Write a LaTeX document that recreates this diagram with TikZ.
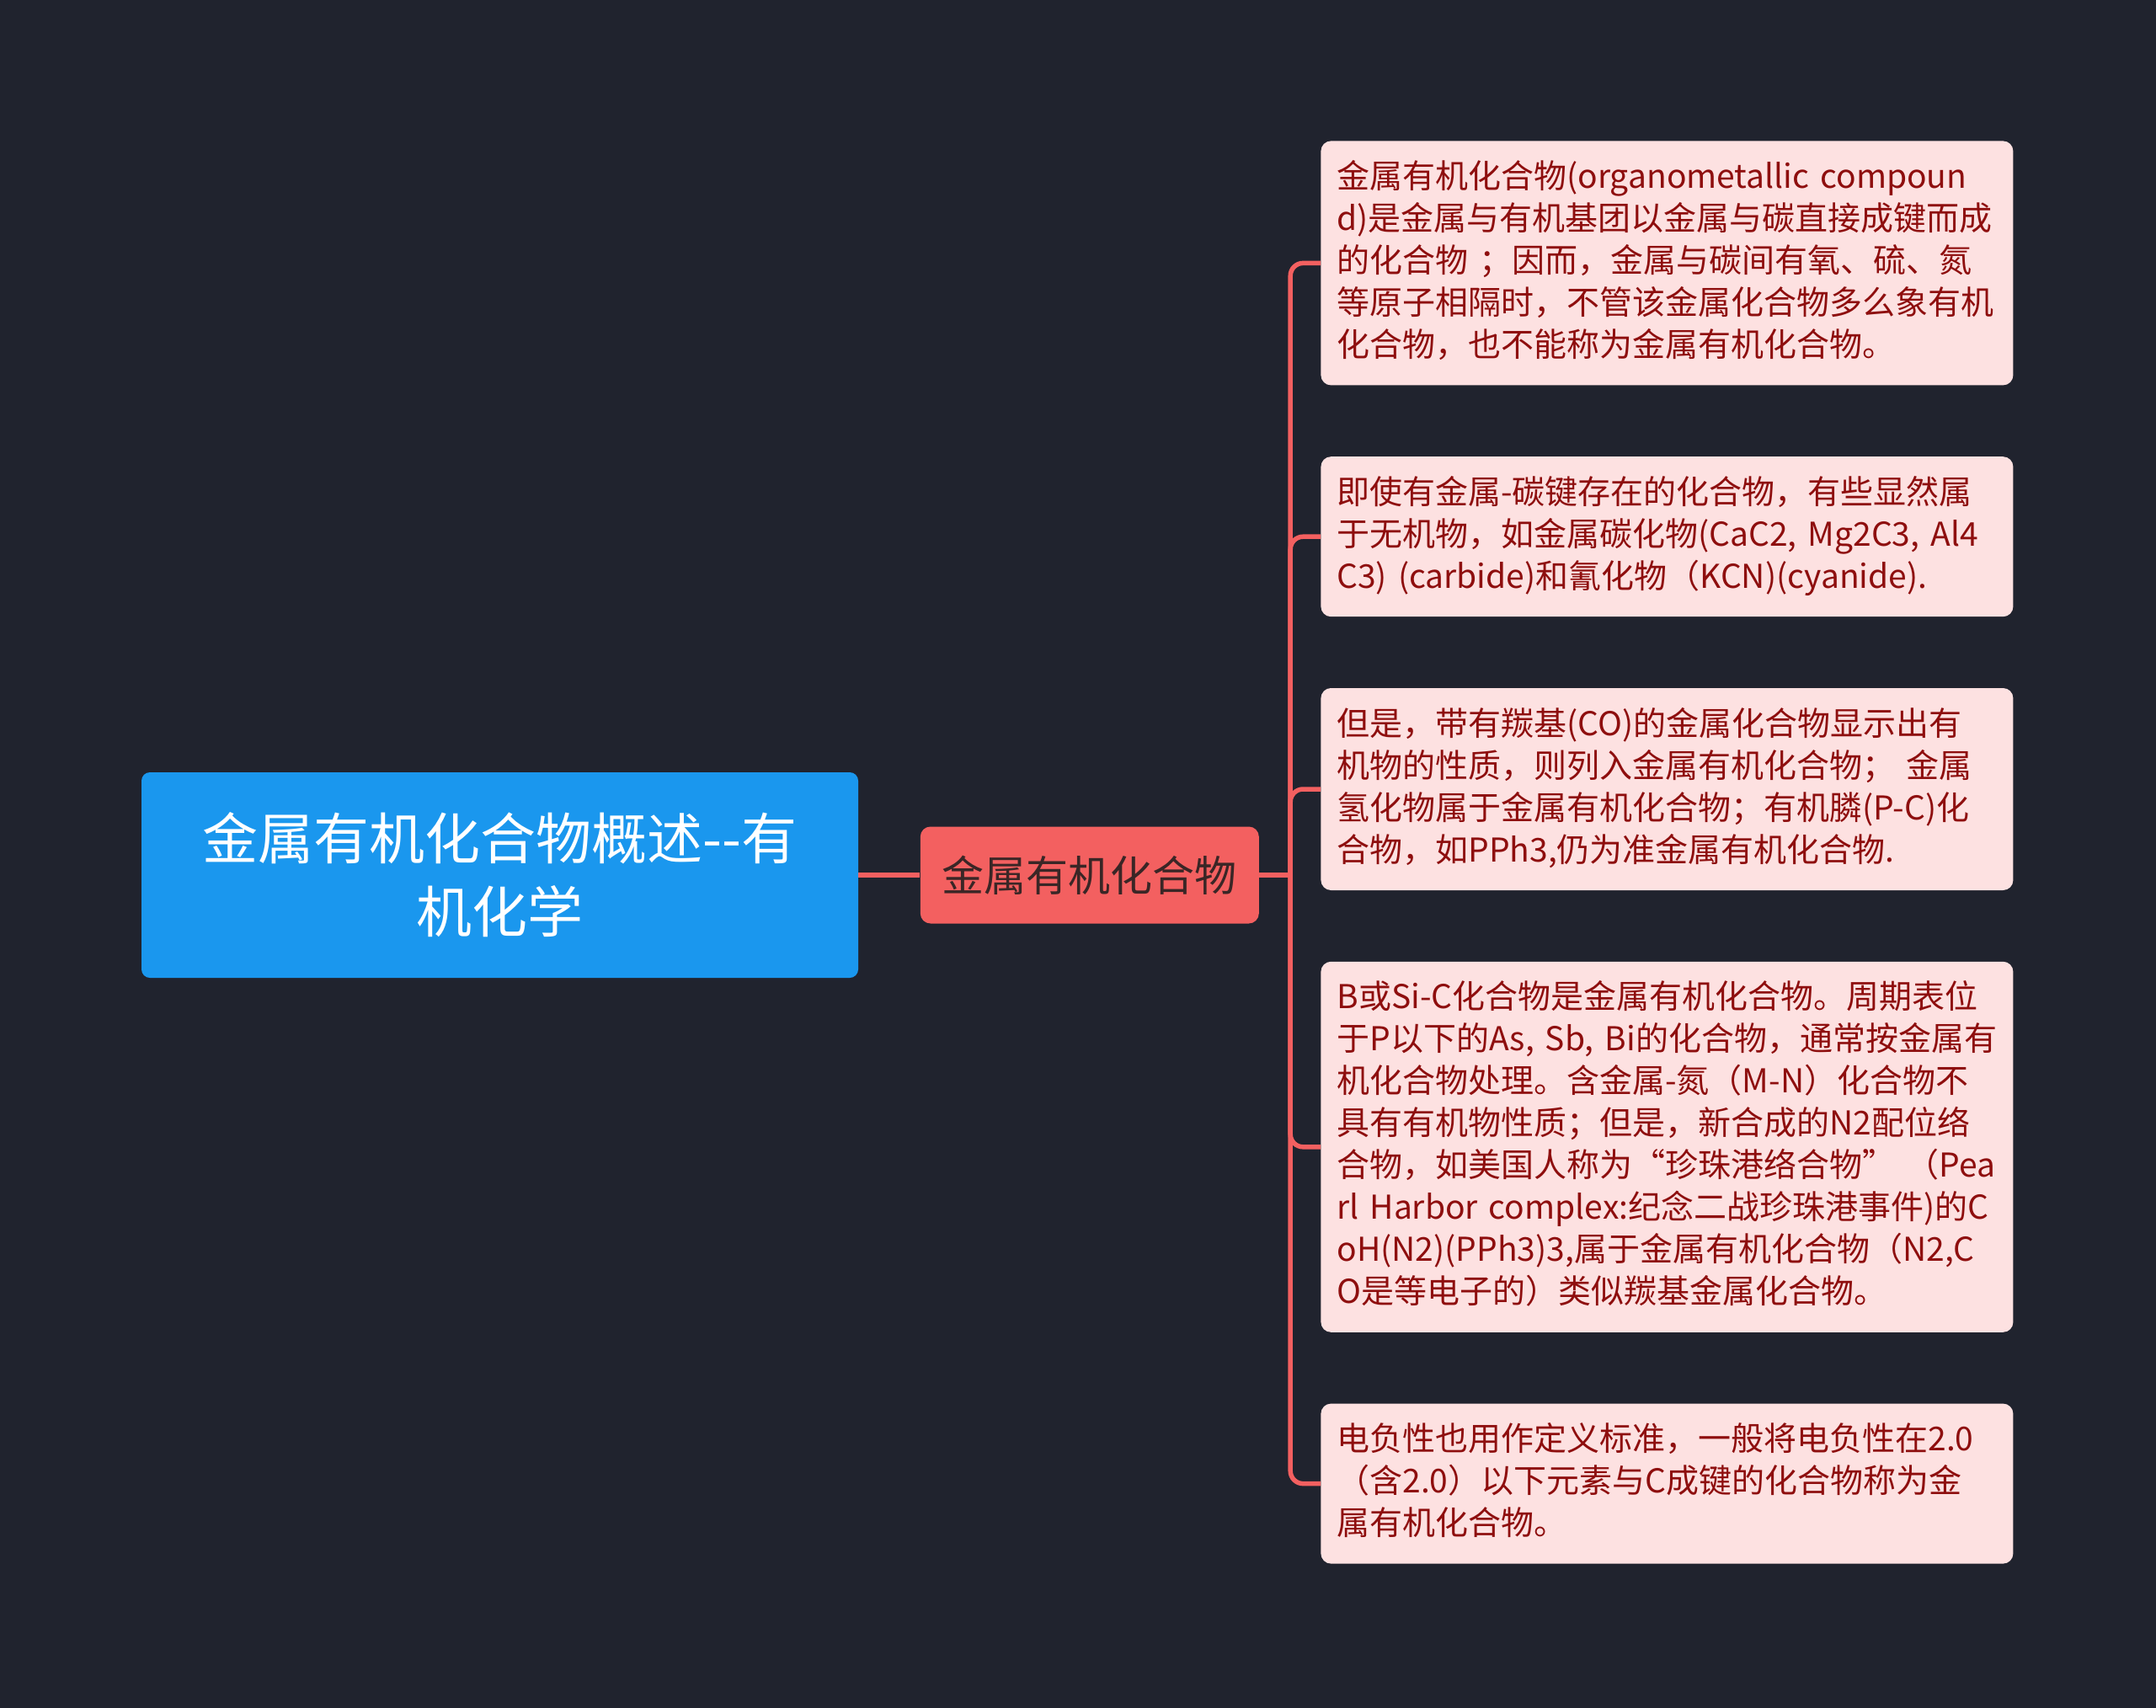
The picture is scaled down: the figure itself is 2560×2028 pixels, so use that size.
\documentclass[tikz,border=0pt]{standalone}
\usepackage{fontspec}
\setmainfont{Noto Sans CJK SC}
\usepackage{xcolor}
\usetikzlibrary{positioning}
\definecolor{bgdark}{HTML}{20232E}
\definecolor{rootblue}{HTML}{1A97EE}
\definecolor{coral}{HTML}{F36060}
\definecolor{leafpink}{HTML}{FDE1E1}
\definecolor{leaftext}{HTML}{8E0E0E}
\definecolor{midtext}{HTML}{3A2626}
\newcommand{\leafstrut}{\rule[-7pt]{0pt}{25pt}}

\begin{document}
\begin{tikzpicture}[x = 0.5pt, y = -0.5pt,
		root/.style = { fill = rootblue, text = white, rounded corners = 5pt, minimum width = 425.5pt, minimum height = 122pt, align = center, font = \fontsize{33}{43.5}\selectfont },
		topic/.style = { fill = coral, text = midtext, rounded corners = 6pt, minimum width = 201pt, minimum height = 57.5pt, font = \fontsize{25}{30}\selectfont },
		leaf/.style = { fill = leafpink, text = leaftext, rounded corners = 6pt, text width = 392pt, inner xsep = 9.5pt, inner ysep = 10pt, align = left, font = \fontsize{19.5}{25}\selectfont, execute at begin node = \leafstrut, execute at end node = \leafstrut },
		link/.style = { draw = coral, line width = 2.75pt, rounded corners = 7.5pt }]
		\fill[bgdark] (0,0) rectangle (2560,2028);
		\useasboundingbox (0,0) rectangle (2560,2028);

		\node [root]                      (root)  at (593.5,1039) {金属有机化合物概述-{}-有\\机化学};
		\node [topic, right = 36.5pt of root] (topic) {金属有机化合物};
		\coordinate [right = 18.5pt of topic] (hub);

		\node [leaf, anchor = north west] (l1) at (1568,167) {金属有机化合物(organometallic compoun\\d)是金属与有机基团以金属与碳直接成键而成\\的化合物 ；因而，金属与碳间有氧、硫、氮\\等原子相隔时，不管该金属化合物多么象有机\\化合物，也不能称为金属有机化合物。};
		\node [leaf, below = 42pt of l1] (l2) {即使有金属-碳键存在的化合物，有些显然属\\于无机物，如金属碳化物(CaC2, Mg2C3, Al4\\C3) (carbide)和氰化物（KCN)(cyanide).};
		\node [leaf, below = 42pt of l2] (l3) {但是，带有羰基(CO)的金属化合物显示出有\\机物的性质，则列入金属有机化合物； 金属\\氢化物属于金属有机化合物；有机膦(P-C)化\\合物，如PPh3,仍为准金属有机化合物.};
		\node [leaf, below = 42pt of l3] (l4) {B或Si-C化合物是金属有机化合物。周期表位\\于P以下的As, Sb, Bi的化合物，通常按金属有\\机化合物处理。含金属-氮（M-N）化合物不\\具有有机物性质；但是，新合成的N2配位络\\合物，如美国人称为“珍珠港络合物” （Pea\\rl Harbor complex:纪念二战珍珠港事件)的C\\oH(N2)(PPh3)3,属于金属有机化合物（N2,C\\O是等电子的）类似羰基金属化合物。};
		\node [leaf, below = 42pt of l4] (l5) {电负性也用作定义标准，一般将电负性在2.0\\（含2.0）以下元素与C成键的化合物称为金\\属有机化合物。};

		\draw [link] (root) -- (topic);
		\draw [link] (topic) -- (hub);

		\draw [link] (hub) |- (l1.west);
		\draw [link] (hub) |- (l2.west);
		\draw [link] (hub) |- (l3.west);
		\draw [link] (hub) |- (l4.west);
		\draw [link] (hub) |- (l5.west);
	\end{tikzpicture}
\end{document}
